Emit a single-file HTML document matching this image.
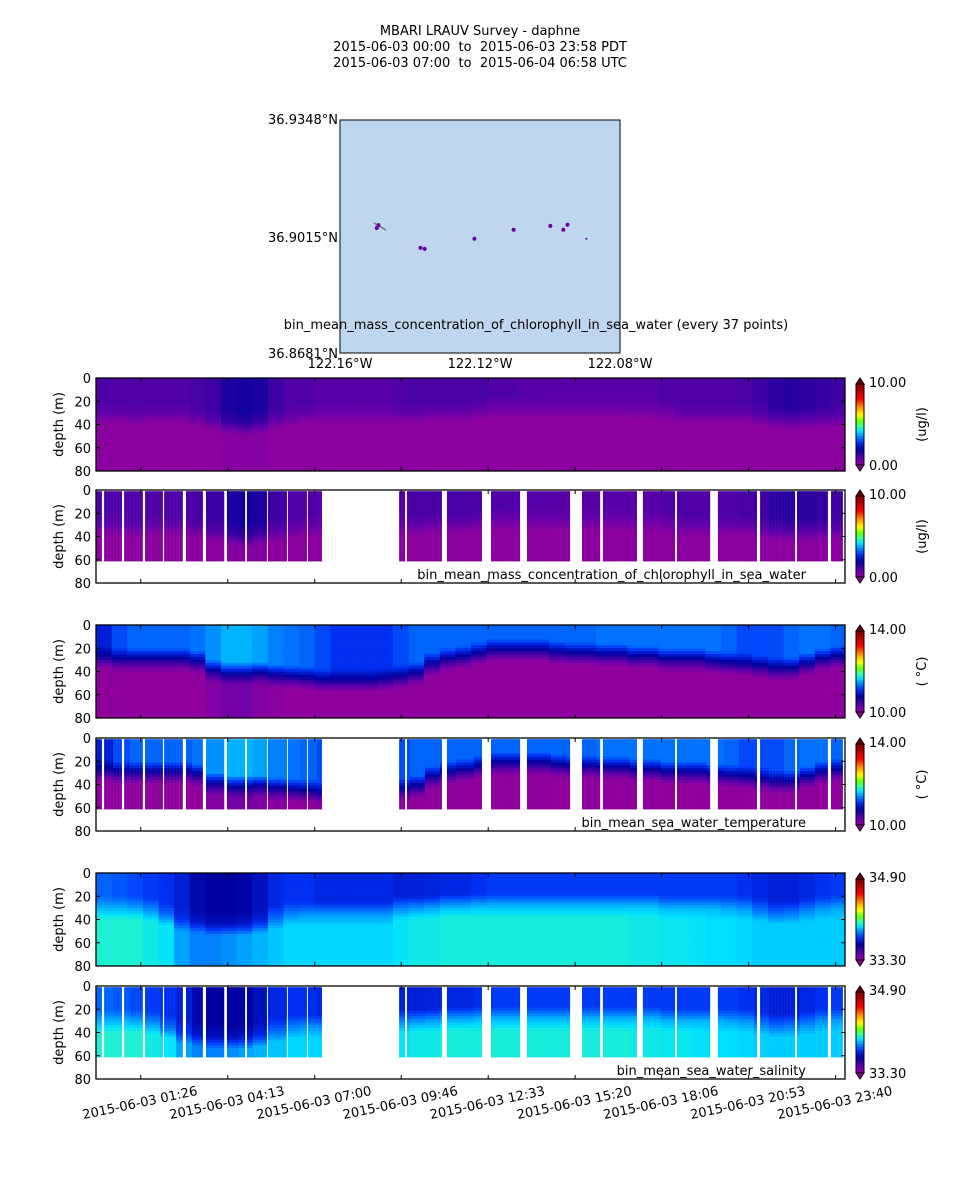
<!DOCTYPE html>
<html><head><meta charset="utf-8">
<style>
html,body{margin:0;padding:0;background:#fff;}
body{width:960px;height:1200px;overflow:hidden;font-family:"DejaVu Sans","Liberation Sans",sans-serif;}
svg text{font-family:"DejaVu Sans","Liberation Sans",sans-serif;fill:#000;white-space:pre;}
</style></head>
<body>
<svg id="fig" width="960" height="1200" viewBox="0 0 960 1200" xmlns="http://www.w3.org/2000/svg">
<g font-size="13" text-anchor="middle">
<text x="480" y="35" xml:space="preserve">MBARI LRAUV Survey - daphne</text>
<text x="480" y="51" xml:space="preserve">2015-06-03 00:00  to  2015-06-03 23:58 PDT</text>
<text x="480" y="67" xml:space="preserve">2015-06-03 07:00  to  2015-06-04 06:58 UTC</text>
</g>
<g>
<rect x="340" y="120" width="280" height="233" fill="#bfd7ee" stroke="#000" stroke-width="1"/>
<polyline points="374,223 379,226 386,230" fill="none" stroke="#777" stroke-width="1.5"/>
<g id="mapdots"></g>
<g font-size="13">
<text x="338" y="124" text-anchor="end">36.9348°N</text>
<text x="338" y="242" text-anchor="end">36.9015°N</text>
<text x="338" y="358" text-anchor="end">36.8681°N</text>
<text x="340" y="368" text-anchor="middle">122.16°W</text>
<text x="480" y="368" text-anchor="middle">122.12°W</text>
<text x="620" y="368" text-anchor="middle">122.08°W</text>
<text x="536" y="329" text-anchor="middle">bin_mean_mass_concentration_of_chlorophyll_in_sea_water (every 37 points)</text>
</g>
</g>
<g id="panels"></g>
</svg>
<script>
// ---- data ----
const hours = [0,0.5,1,1.5,2,2.5,3,3.5,4,4.5,5,5.5,6,6.5,7,7.5,8,8.5,9,9.5,10,10.5,11,11.5,12,12.5,13,13.5,14,14.5,15,15.5,16,16.5,17,17.5,18,18.5,19,19.5,20,20.5,21,21.5,22,22.5,23,23.5];
const chlTop = [1.1,1.1,1.1,1.1,1.1,1.1,1.2,1.3,1.7,1.8,1.7,1.3,1.1,1.1,1.0,1.0,1.0,1.0,1.0,1.1,1.2,1.2,1.2,1.2,1.2,1.1,1.1,1.0,1.0,1.0,1.0,1.0,1.0,1.0,1.0,1.0,1.1,1.1,1.1,1.1,1.1,1.2,1.3,1.5,1.6,1.5,1.4,1.3];
const chlBand = [0.9,0.9,0.9,0.9,0.9,0.9,1.0,1.1,1.4,1.4,1.3,1.0,0.9,0.9,0.8,0.8,0.8,0.8,0.8,0.9,0.9,0.9,0.9,0.9,0.9,0.8,0.8,0.8,0.8,0.8,0.8,0.8,0.8,0.8,0.8,0.8,0.8,0.9,0.9,0.9,0.9,0.9,1.0,1.1,1.1,1.0,1.0,1.0];
const chlDeep = [0.2,0.2,0.2,0.2,0.2,0.2,0.2,0.2,0.3,0.3,0.3,0.2,0.2,0.2,0.2,0.2,0.2,0.2,0.2,0.2,0.2,0.2,0.2,0.2,0.2,0.2,0.2,0.2,0.2,0.2,0.2,0.2,0.2,0.2,0.2,0.2,0.2,0.2,0.2,0.2,0.2,0.2,0.2,0.2,0.2,0.2,0.2,0.2];
const chlDepth = [30,30,32,30,30,30,32,35,38,40,38,35,32,30,30,30,30,30,30,30,30,28,28,28,26,25,25,25,25,25,25,25,25,25,26,26,28,30,30,30,30,30,32,34,35,35,34,33];
const tempTop = [11.0,11.2,11.3,11.3,11.3,11.3,11.35,11.45,11.55,11.55,11.5,11.4,11.35,11.3,11.2,11.1,11.1,11.1,11.1,11.2,11.3,11.3,11.3,11.3,11.3,11.3,11.3,11.3,11.3,11.3,11.3,11.3,11.35,11.35,11.35,11.35,11.35,11.35,11.35,11.35,11.3,11.2,11.2,11.2,11.3,11.35,11.35,11.3];
const tempBand = [10.7,10.7,10.7,10.7,10.7,10.7,10.7,10.7,10.8,10.8,10.7,10.7,10.7,10.7,10.7,10.7,10.7,10.7,10.7,10.7,10.7,10.7,10.7,10.7,10.7,10.7,10.7,10.7,10.7,10.7,10.7,10.7,10.7,10.7,10.7,10.7,10.7,10.7,10.7,10.7,10.7,10.7,10.7,10.7,10.7,10.7,10.7,10.7];
const tempDeep = [10.05,10.05,10.05,10.05,10.05,10.05,10.05,10.15,10.25,10.25,10.15,10.1,10.05,10.05,10.05,10.05,10.05,10.05,10.05,10.05,10.05,10.05,10.05,10.05,10.05,10.05,10.05,10.05,10.05,10.05,10.05,10.05,10.05,10.05,10.05,10.05,10.05,10.05,10.05,10.05,10.05,10.05,10.05,10.05,10.05,10.05,10.05,10.05];
const tempDepth = [28,30,30,30,30,30,32,40,42,42,42,44,45,46,48,48,48,48,47,45,42,34,30,28,25,22,22,22,22,24,25,25,26,26,28,28,30,30,30,32,33,34,36,38,38,34,30,28];
const salTop = [33.82,33.80,33.78,33.76,33.74,33.70,33.64,33.62,33.62,33.63,33.66,33.72,33.74,33.74,33.72,33.72,33.72,33.72,33.72,33.70,33.70,33.71,33.72,33.72,33.74,33.76,33.76,33.76,33.76,33.76,33.76,33.76,33.76,33.76,33.76,33.76,33.76,33.76,33.76,33.76,33.76,33.74,33.72,33.70,33.70,33.72,33.74,33.76];
const salBand = [33.92,33.92,33.90,33.88,33.82,33.74,33.68,33.66,33.66,33.68,33.72,33.82,33.86,33.88,33.88,33.88,33.88,33.88,33.88,33.86,33.88,33.90,33.90,33.90,33.92,33.92,33.92,33.92,33.92,33.92,33.92,33.92,33.92,33.92,33.92,33.92,33.92,33.92,33.92,33.92,33.90,33.88,33.84,33.82,33.84,33.86,33.88,33.90];
const salDeep = [34.02,34.02,34.02,34.00,33.98,33.90,33.86,33.86,33.88,33.90,33.92,33.94,33.96,33.96,33.96,33.96,33.96,33.96,33.96,33.98,34.00,34.00,34.01,34.01,34.01,34.01,34.01,34.01,34.01,34.01,34.01,34.01,34.01,34.01,34.00,34.00,33.99,33.99,33.98,33.97,33.97,33.96,33.95,33.95,33.95,33.95,33.95,33.95];
const salDepth = [30,30,30,32,35,40,42,44,44,44,42,38,35,35,35,35,35,35,35,30,30,30,28,28,28,28,28,28,28,28,28,28,28,28,28,28,30,30,30,30,30,30,32,34,34,32,30,30];
const profStart = [0,0.26,0.90,1.57,2.18,2.88,3.52,4.19,4.83,5.50,6.14,6.78,9.70,9.95,11.23,12.64,13.79,15.55,16.22,17.50,18.59,19.90,21.25,22.43,23.52];
const profEnd =   [0.19,0.83,1.50,2.14,2.78,3.42,4.10,4.77,5.47,6.11,6.75,7.23,9.89,11.07,12.35,13.57,15.17,16.13,17.31,18.53,19.65,21.15,22.37,23.42,23.90];
const tickLabels = ["2015-06-03 01:26","2015-06-03 04:13","2015-06-03 07:00","2015-06-03 09:46","2015-06-03 12:33","2015-06-03 15:20","2015-06-03 18:06","2015-06-03 20:53","2015-06-03 23:40"];
const tickHours = [1.433,4.217,7.0,9.767,12.55,15.333,18.1,20.883,23.667];
const depthTicks = [0,20,40,60,80];
const mapLon = [-122.1490,-122.1495,-122.1370,-122.1358,-122.1216,-122.1104,-122.0999,-122.0962,-122.0950,-122.0896];
const mapLat = [36.9047,36.9039,36.8982,36.8979,36.9008,36.9034,36.9045,36.9034,36.9048,36.9008];

// ---- scales ----
const X0=96, X1=845, HMAX=23.967;
const xOf = h => X0 + h/HMAX*(X1-X0);
const NS='http://www.w3.org/2000/svg';
function mk(tag, attrs, parent){const e=document.createElementNS(NS,tag);for(const k in attrs)e.setAttribute(k,attrs[k]);if(parent)parent.appendChild(e);return e;}

// map
const mapG=document.getElementById('mapdots');
const lonX = lo => 340 + (lo+122.16)/0.08*280;
const latY = la => 353 - (la-36.8681)/(36.9348-36.8681)*233;
for(let i=0;i<mapLon.length;i++){
  const c=mk('circle',{cx:lonX(mapLon[i]),cy:latY(mapLat[i]),r:(i==9?1:2),fill:'#6a00a0'},mapG);
  
  
}

// colormap
const stops=[[0,[150,0,155]],[0.08,[105,0,170]],[0.15,[45,0,160]],[0.2,[0,0,160]],[0.28,[0,50,245]],[0.35,[0,128,255]],[0.42,[0,224,255]],[0.48,[60,255,170]],[0.55,[100,255,0]],[0.62,[255,255,0]],[0.72,[255,144,0]],[0.82,[255,0,0]],[1,[128,0,0]]];
function cmap(t){t=Math.max(0,Math.min(1,t));for(let i=1;i<stops.length;i++){if(t<=stops[i][0]){const a=stops[i-1],b=stops[i];const f=(t-a[0])/(b[0]-a[0]);const c=a[1].map((v,j)=>Math.round(v+(b[1][j]-v)*f));return 'rgb('+c.join(',')+')';}}return 'rgb(128,0,0)';}

function profileVal(top,band,deep,bd,d){
  if(d<=bd-10) return top;
  if(d<=bd) return top+(band-top)*(d-(bd-10))/10;
  if(d<=bd+10) return band+(deep-band)*(d-bd)/10;
  return deep;
}

const panelsG=document.getElementById('panels');
const vars=[
 {name:'chlorophyll',top:chlTop,band:chlBand,deep:chlDeep,bd:chlDepth,vmin:0,vmax:10,lo:'0.00',hi:'10.00',unit:'(ug/l)',caption:'bin_mean_mass_concentration_of_chlorophyll_in_sea_water',y:[378,490]},
 {name:'temperature',top:tempTop,band:tempBand,deep:tempDeep,bd:tempDepth,vmin:10,vmax:14,lo:'10.00',hi:'14.00',unit:'( °C)',caption:'bin_mean_sea_water_temperature',y:[625,738]},
 {name:'salinity',top:salTop,band:salBand,deep:salDeep,bd:salDepth,vmin:33.3,vmax:34.9,lo:'33.30',hi:'34.90',unit:'',caption:'bin_mean_sea_water_salinity',y:[873,986]}
];
const PH=93, DSTEP=2.5;
let gid=0;
vars.forEach((v,vi)=>{
  [0,1].forEach(kind=>{
    const top=v.y[kind];
    const yOf=d=>top+d/80*PH;
    const g=mk('g',{},panelsG);
    
    
    const cid='clip'+(gid++);
    const cp=mk('clipPath',{id:cid},g);mk('rect',{x:X0,y:top,width:X1-X0,height:PH},cp);
    const marks=mk('g',{'clip-path':'url(#'+cid+')'},g);
    const colorAt=(i,d)=>cmap((profileVal(v.top[i],v.band[i],v.deep[i],v.bd[i],d)-v.vmin)/(v.vmax-v.vmin));
    if(kind===0){
      for(let i=0;i<hours.length;i++){
        const x0=xOf(hours[i]), x1=xOf(i+1<hours.length?hours[i+1]:HMAX);
        for(let d=0;d<80;d+=DSTEP){
          const r=mk('rect',{x:x0,y:yOf(d),width:x1-x0+0.6,height:PH*DSTEP/80+0.6,fill:colorAt(i,d+DSTEP/2)},marks);
          
          
        }
      }
    } else {
      for(let p=0;p<profStart.length;p++){
        const xa=xOf(profStart[p]), xb=xOf(profEnd[p]);
        for(let x=xa;x<xb;x+=3){
          const h=(x-X0)/(X1-X0)*HMAX;
          const i=Math.min(hours.length-1,Math.floor(h/0.5));
          for(let d=1;d<61;d+=DSTEP){
            const r=mk('rect',{x:x,y:yOf(d),width:Math.min(3.2,xb-x),height:PH*DSTEP/80+0.5,fill:colorAt(i,d+DSTEP/2)},marks);
            
            
          }
        }
      }
      const cap=mk('text',{x:806,y:top+PH-4,'text-anchor':'end','font-size':13},g);
      cap.textContent=v.caption;
      
      
    }
    mk('rect',{x:X0,y:top,width:X1-X0,height:PH,fill:'none',stroke:'#000','stroke-width':1.3},g);
    depthTicks.forEach(d=>{
      mk('line',{x1:X0,x2:X0+4,y1:yOf(d),y2:yOf(d),stroke:'#000'},g);
      mk('line',{x1:X1,x2:X1-4,y1:yOf(d),y2:yOf(d),stroke:'#000'},g);
      const t=mk('text',{x:91,y:yOf(d)+5,'text-anchor':'end','font-size':13},g);
      t.textContent=d;
      
      
    });
    tickHours.forEach(h=>{
      mk('line',{x1:xOf(h),x2:xOf(h),y1:top,y2:top+4,stroke:'#000'},g);
      mk('line',{x1:xOf(h),x2:xOf(h),y1:top+PH,y2:top+PH-4,stroke:'#000'},g);
    });
    const yl=mk('text',{x:0,y:0,'text-anchor':'middle','font-size':13,transform:'translate(63,'+(top+PH/2)+') rotate(-90)'},g);
    yl.textContent='depth (m)';
    
    
    const cb=mk('g',{},g);
    
    
    const cbT=top+6, cbB=top+PH-6, cx0=856, cw=8;
    const n=40;
    for(let k=0;k<n;k++){
      mk('rect',{x:cx0,y:cbB-(k+1)*(cbB-cbT)/n,width:cw,height:(cbB-cbT)/n+0.5,fill:cmap((k+0.5)/n)},cb);
    }
    mk('polygon',{points:cx0+','+cbT+' '+(cx0+cw)+','+cbT+' '+(cx0+cw/2)+','+(top),fill:cmap(1),stroke:'#000','stroke-width':1},cb);
    mk('polygon',{points:cx0+','+cbB+' '+(cx0+cw)+','+cbB+' '+(cx0+cw/2)+','+(top+PH),fill:cmap(0),stroke:'#000','stroke-width':1},cb);
    mk('rect',{x:cx0,y:cbT,width:cw,height:cbB-cbT,fill:'none',stroke:'#000','stroke-width':1},cb);
    const th=mk('text',{x:869,y:top+9,'font-size':13},cb);th.textContent=v.hi;
    const tl=mk('text',{x:869,y:top+PH-1,'font-size':13},cb);tl.textContent=v.lo;
    if(v.unit){
      const u=mk('text',{x:0,y:0,'text-anchor':'middle','font-size':13,transform:'translate(926,'+(top+PH/2)+') rotate(-90)'},cb);
      u.textContent=v.unit;
      
      
    }
  });
});
tickHours.forEach((h,i)=>{
  const t=mk('text',{x:0,y:0,'text-anchor':'middle','font-size':13,transform:'translate('+xOf(h)+',1107) rotate(-12)'},panelsG);
  t.textContent=tickLabels[i];
  
  
});
</script>
</body></html>
